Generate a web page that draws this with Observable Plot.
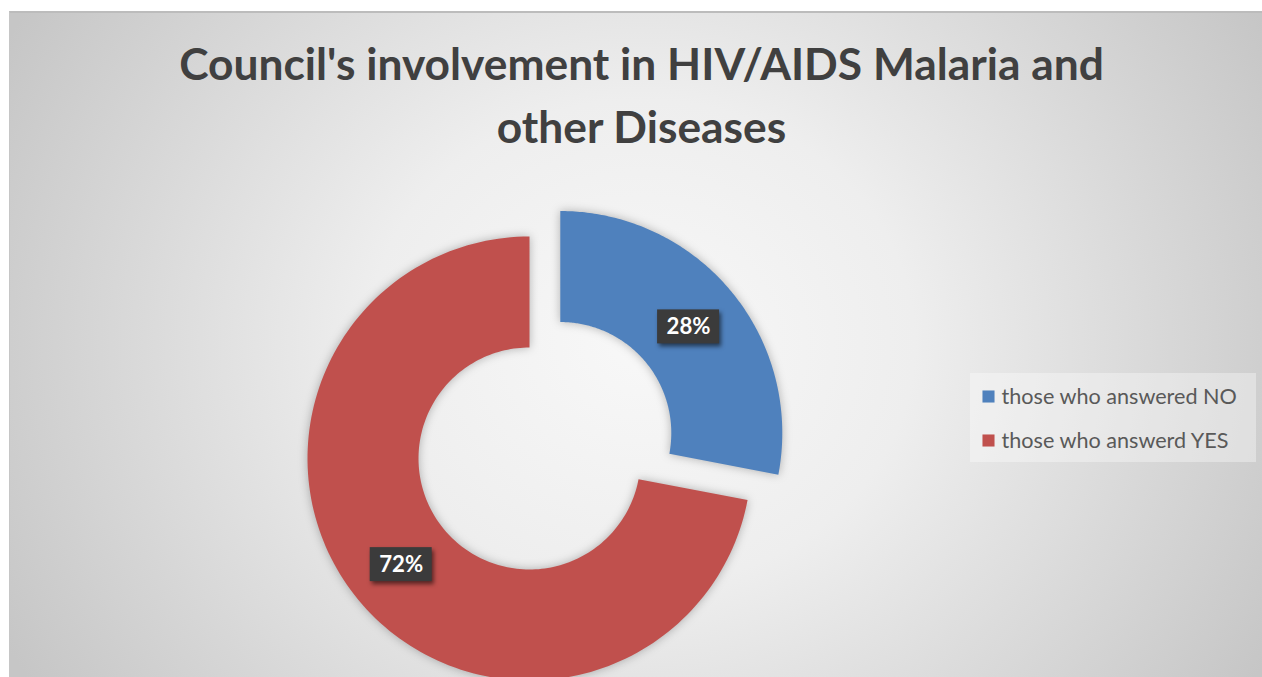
<!DOCTYPE html>
<html>
<head>
<meta charset="utf-8">
<script src="https://cdn.jsdelivr.net/npm/d3@7"></script>
<script src="https://cdn.jsdelivr.net/npm/@observablehq/plot@0.6"></script>
<style>
  html, body { margin: 0; padding: 0; background: #ffffff; }
  #wrap { position: relative; width: 1262px; height: 677px; overflow: hidden; }
  #bg {
    position: absolute; left: 9px; top: 11px; width: 1253px; height: 666px;
    box-sizing: border-box;
    border-top: 2px solid #bcbcbc; border-left: 1px solid #c6c6c6;
    background: radial-gradient(ellipse 720px 640px at 631px 330px, #f8f8f8 0%, #eeeeee 38%, #d8d8d8 72%, #c6c6c6 100%);
  }
  #legendBox {
    position: absolute; left: 970px; top: 373px; width: 286px; height: 89px;
    background: rgba(255,255,255,0.35);
  }
  #chart { position: absolute; left: 0; top: 0; }
</style>
</head>
<body>
<div id="wrap">
  <div id="bg"></div>
  <div id="legendBox"></div>
  <div id="chart"></div>
</div>
<script>
// ---- data ----
const categories = ["those who answered NO", "those who answerd YES"];
const percents = [28, 72];
const colors = ["#4f81bd", "#c0504d"];
const titleLines = ["Council's involvement in HIV/AIDS Malaria and", "other Diseases"];

// ---- font fitting ----
function fitSize(text, weight, family, target) {
  const c = document.createElement("canvas").getContext("2d");
  c.font = `${weight} 100px ${family}`;
  return 100 * target / c.measureText(text).width;
}
const FONT = "Lato";
const titleSize = fitSize(titleLines[0], "bold", FONT, 925);
const legendSize = fitSize(categories[0], "normal", FONT, 236);
const labelSize = fitSize("28%", "bold", FONT, 44);

// ---- geometry from data ----
const INNER = 0.5;
const EXPLODE = [0.18, 0];
const arcs = d3.pie().sort(null).value(d => d)(percents);
const ringPts = [];
const labelPts = [];
arcs.forEach((a, i) => {
  const cat = categories[i];
  const mid = (a.startAngle + a.endAngle) / 2;
  const ox = EXPLODE[i] * Math.sin(mid), oy = EXPLODE[i] * Math.cos(mid);
  const n = 160;
  for (let k = 0; k <= n; k++) {
    const t = a.startAngle + (a.endAngle - a.startAngle) * k / n;
    ringPts.push({cat, x: ox + Math.sin(t), y: oy + Math.cos(t)});
  }
  for (let k = n; k >= 0; k--) {
    const t = a.startAngle + (a.endAngle - a.startAngle) * k / n;
    ringPts.push({cat, x: ox + INNER * Math.sin(t), y: oy + INNER * Math.cos(t)});
  }
  labelPts.push({cat, x: ox + 0.75 * Math.sin(mid), y: oy + 0.75 * Math.cos(mid), text: percents[i] + "%"});
});

const legendMarks = categories.flatMap((c, i) => [
  Plot.dot([c], {frameAnchor: "top-left", dx: 988, dy: 396 + 44 * i, symbol: "square", r: 6.8, fill: d => d, stroke: "none"}),
  Plot.text([c], {frameAnchor: "top-left", dx: 1001, dy: 403 + 44 * i, lineAnchor: "bottom", textAnchor: "start",
    text: d => d, fill: "#595959", fontSize: legendSize, fontFamily: FONT})
]);

const plot = Plot.plot({
  width: 1262, height: 677, margin: 0,
  style: {background: "transparent", fontFamily: FONT},
  x: {domain: [-1, 1], range: [307, 751], axis: null},
  y: {domain: [-1, 1], range: [680, 236], axis: null},
  color: {domain: categories, range: colors},
  marks: [
    Plot.line(ringPts, {x: "x", y: "y", z: "cat", fill: "cat", stroke: "none", curve: "linear-closed"}),
    Plot.rect(labelPts, {x1: "x", x2: "x", y1: "y", y2: "y", insetLeft: -31, insetRight: -31, insetTop: -17, insetBottom: -17, fill: "#3b3b3b"}),
    Plot.text(labelPts, {x: "x", y: "y", text: "text", fill: "white", fontWeight: "bold", fontSize: labelSize, fontFamily: FONT}),
    Plot.text([titleLines[0]], {frameAnchor: "top", dx: 10, dy: 79, lineAnchor: "bottom", text: d => d,
      fontSize: titleSize, fontWeight: "bold", fill: "#404040", fontFamily: FONT}),
    Plot.text([titleLines[1]], {frameAnchor: "top", dx: 10, dy: 142, lineAnchor: "bottom", text: d => d,
      fontSize: titleSize, fontWeight: "bold", fill: "#404040", fontFamily: FONT}),
    ...legendMarks
  ]
});

plot.querySelectorAll('g[aria-label="line"]').forEach(g => g.style.filter = "drop-shadow(0px 0px 5px rgba(0,0,0,0.28))");
plot.querySelectorAll('g[aria-label="rect"]').forEach(g => g.style.filter = "drop-shadow(2px 3px 2px rgba(0,0,0,0.55))");
document.getElementById("chart").appendChild(plot);
</script>
</body>
</html>
